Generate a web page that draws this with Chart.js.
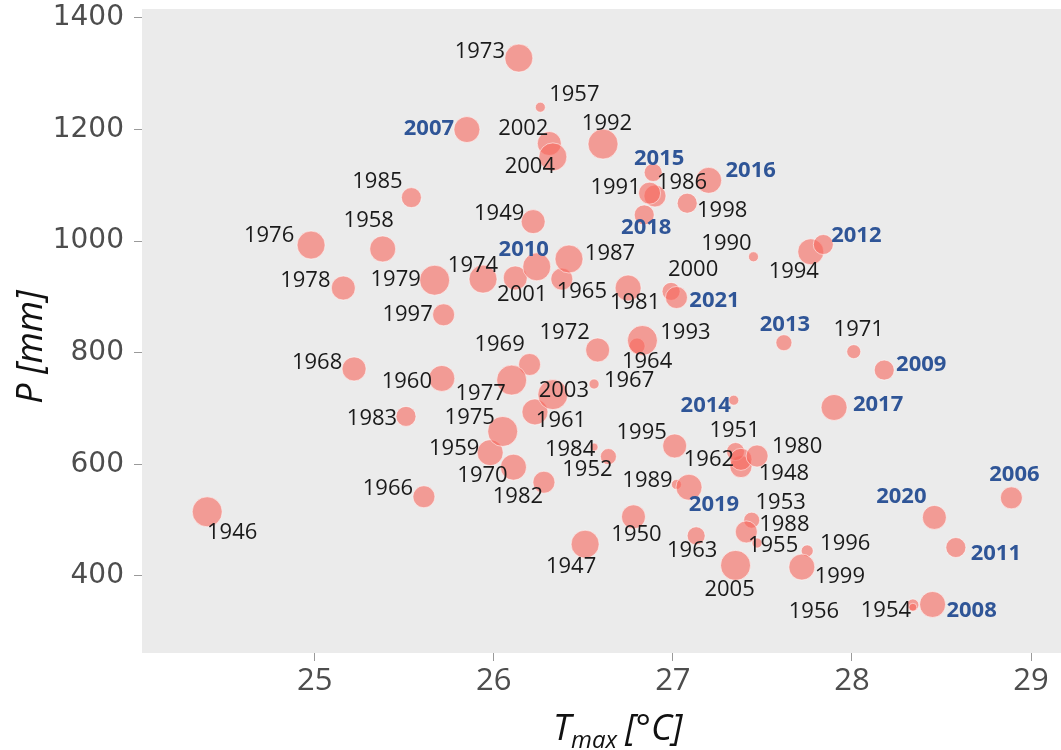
<!DOCTYPE html>
<html>
<head>
<meta charset="utf-8">
<script src="https://cdn.jsdelivr.net/npm/chart.js@4.4.1/dist/chart.umd.min.js"></script>
<style>
  html, body { margin: 0; padding: 0; background: #fff; }
  #wrap { width: 1061px; height: 750px; }
</style>
</head>
<body>
<div id="wrap"><canvas id="chart" width="1061" height="750"></canvas></div>
<script>
// Annual values, 1946-2021
const years = [
  1946, 1947, 1948, 1949, 1950, 1951, 1952, 1953, 1954, 1955,
  1956, 1957, 1958, 1959, 1960, 1961, 1962, 1963, 1964, 1965,
  1966, 1967, 1968, 1969, 1970, 1971, 1972, 1973, 1974, 1975,
  1976, 1977, 1978, 1979, 1980, 1981, 1982, 1983, 1984, 1985,
  1986, 1987, 1988, 1989, 1990, 1991, 1992, 1993, 1994, 1995,
  1996, 1997, 1998, 1999, 2000, 2001, 2002, 2003, 2004, 2005,
  2006, 2007, 2008, 2009, 2010, 2011, 2012, 2013, 2014, 2015,
  2016, 2017, 2018, 2019, 2020, 2021
];
const tmax = [
  24.40, 26.51, 27.38, 26.22, 26.78, 27.35, 26.64, 27.44, 28.34, 27.47,
  28.34, 26.26, 25.38, 25.98, 25.71, 26.23, 27.38, 27.13, 26.80, 26.38,
  25.61, 26.56, 25.22, 26.20, 26.11, 28.01, 26.58, 26.14, 25.94, 26.05,
  24.98, 26.10, 25.16, 25.67, 27.47, 26.75, 26.28, 25.51, 26.56, 25.54,
  26.90, 26.42, 27.41, 27.02, 27.45, 26.87, 26.61, 26.83, 27.77, 27.01,
  27.75, 25.72, 27.08, 27.72, 26.99, 26.12, 26.31, 26.33, 26.33, 27.35,
  28.89, 25.85, 28.45, 28.18, 26.24, 28.58, 27.84, 27.62, 27.34, 26.89,
  27.20, 27.90, 26.84, 27.09, 28.46, 27.02
];
const precip = [
  515, 457, 596, 1035, 506, 623, 614, 500, 348, 459,
  344, 1240, 986, 621, 754, 694, 609, 472, 812, 932,
  542, 744, 771, 779, 595, 802, 805, 1328, 932, 659,
  993, 751, 916, 930, 615, 916, 568, 686, 631, 1078,
  1081, 968, 479, 564, 972, 1086, 1174, 822, 981, 633,
  445, 868, 1068, 416, 910, 934, 1175, 725, 1151, 419,
  540, 1200, 349, 769, 954, 451, 994, 818, 715, 1123,
  1109, 702, 1047, 559, 505, 899
];
// third variable shown as bubble size
const bubbleSize = [
  15, 14, 11, 12, 12, 9, 8, 8, 6, 5,
  4, 5, 13, 13, 13, 13, 11, 9, 8, 11,
  11, 5, 12, 11, 13, 7, 12, 14, 14, 15,
  14, 15, 12, 15, 11, 13, 11, 10, 4, 10,
  11, 14, 11, 5, 5, 11, 15, 15, 13, 12,
  6, 11, 10, 13, 9, 12, 12, 15, 14, 15,
  11, 13, 13, 10, 14, 10, 10, 8, 5, 9,
  13, 13, 10, 13, 12, 11
];
const xTicks = [25, 26, 27, 28, 29];
const yTicks = [400, 600, 800, 1000, 1200, 1400];
const highlightFrom = 2006;

// where each year label sits relative to its bubble (px)
const labelDx = [
  25, -14, 43, -34, 3, -1, -21, 29, -27, 16,
  -99, 34, -14, -36, -35, 26, -32, -4, 10, 20,
  -36, 35, -37, -30, -31, 5, -33, -39, -10, -33,
  -42, -31, -38, -39, 40, 7, -26, -34, -24, -34,
  27, 41, 38, -29, -27, -34, 4, 43, -17, -33,
  38, -36, 35, 38, 22, 7, -26, 11, -23, -6,
  3, -38, 39, 37, -13, 40, 33, 1, -28, 6,
  42, 44, 2, 25, -33, 38
];
const labelDy = [
  21, 23, 7, -8, 18, -21, 13, -17, 6, 3,
  4, -12, -28, -4, 3, 9, 0, 15, 16, 13,
  -8, -3, -6, -20, 9, -22, -17, -6, -13, -14,
  -9, 14, -7, 0, -9, 15, 15, 2, 3, -16,
  -13, -5, -7, -4, -13, -5, -20, -8, 20, -13,
  -7, 0, 8, 10, -22, 17, -15, -4, 10, 24,
  -23, -1, 6, -5, -17, 6, -9, -18, 6, -14,
  -10, -3, 13, 17, -21, 3
];

const PANEL_BG = "#ebebeb";
const BUBBLE = "rgba(247, 102, 92, 0.6)";
const BLUE = "#2f5597";

const panelBackground = {
  id: "panelBackground",
  beforeDraw(chart) {
    const { ctx, chartArea: a } = chart;
    ctx.save();
    ctx.fillStyle = PANEL_BG;
    ctx.fillRect(a.left, a.top, a.right - a.left, a.bottom - a.top);
    ctx.restore();
  }
};

const yearLabels = {
  id: "yearLabels",
  afterDatasetsDraw(chart) {
    const ctx = chart.ctx;
    const meta = chart.getDatasetMeta(0);
    ctx.save();
    ctx.textAlign = "center";
    ctx.textBaseline = "middle";
    meta.data.forEach((pt, i) => {
      const hi = years[i] >= highlightFrom;
      ctx.font = (hi ? "bold " : "") + "22px 'Open Sans'";
      ctx.fillStyle = hi ? BLUE : "#1a1a1a";
      ctx.fillText(String(years[i]), pt.x + labelDx[i], pt.y + labelDy[i]);
    });
    ctx.restore();
  }
};

// axis titles (x title needs a subscript)
const axisTitles = {
  id: "axisTitles",
  afterDraw(chart) {
    const ctx = chart.ctx;
    ctx.save();
    ctx.fillStyle = "#111";
    ctx.textBaseline = "alphabetic";
    ctx.textAlign = "left";
    let x = 553;
    const base = 740;
    ctx.font = "italic 36px 'Open Sans'";
    ctx.fillText("T", x, base);
    x += ctx.measureText("T").width;
    ctx.font = "italic 24px 'Open Sans'";
    ctx.fillText("max", x, base + 8);
    x += ctx.measureText("max").width + 8;
    ctx.font = "italic 36px 'Open Sans'";
    ctx.fillText("[°C]", x, base);

    ctx.translate(42, 347);
    ctx.rotate(-Math.PI / 2);
    ctx.textAlign = "center";
    ctx.fillText("P [mm]", 0, 0);
    ctx.restore();
  }
};

new Chart(document.getElementById("chart"), {
  type: "bubble",
  data: {
    datasets: [{
      data: years.map((y, i) => ({ x: tmax[i], y: precip[i], r: bubbleSize[i] })),
      backgroundColor: BUBBLE,
      borderColor: "rgba(255, 255, 255, 0.55)",
      borderWidth: 1
    }]
  },
  options: {
    responsive: false,
    animation: false,
    devicePixelRatio: 1,
    layout: { autoPadding: false, padding: { top: 9, right: 0, left: 0, bottom: 0 } },
    plugins: { legend: { display: false }, tooltip: { enabled: false } },
    scales: {
      x: {
        type: "linear",
        min: 24.036,
        max: 29.167,
        afterBuildTicks: (s) => { s.ticks = xTicks.map((v) => ({ value: v })); },
        afterFit: (s) => { s.height = 97; s.paddingLeft = 0; s.paddingRight = 0; },
        grid: { drawOnChartArea: false, drawTicks: true, tickLength: 8, color: "#9a9a9a" },
        border: { display: false },
        ticks: {
          font: { family: "Open Sans", size: 31 },
          color: "#4d4d4d",
          padding: 2,
          callback: (v) => String(v)
        }
      },
      y: {
        type: "linear",
        min: 262,
        max: 1416,
        afterBuildTicks: (s) => { s.ticks = yTicks.map((v) => ({ value: v })); },
        afterFit: (s) => { s.width = 142; s.paddingTop = 0; s.paddingBottom = 0; },
        grid: { drawOnChartArea: false, drawTicks: true, tickLength: 8, color: "#9a9a9a" },
        border: { display: false },
        ticks: {
          font: { family: "DejaVu Sans", size: 28 },
          color: "#4d4d4d",
          padding: 10,
          callback: (v) => String(v)
        }
      }
    }
  },
  plugins: [panelBackground, yearLabels, axisTitles]
});
</script>
</body>
</html>
